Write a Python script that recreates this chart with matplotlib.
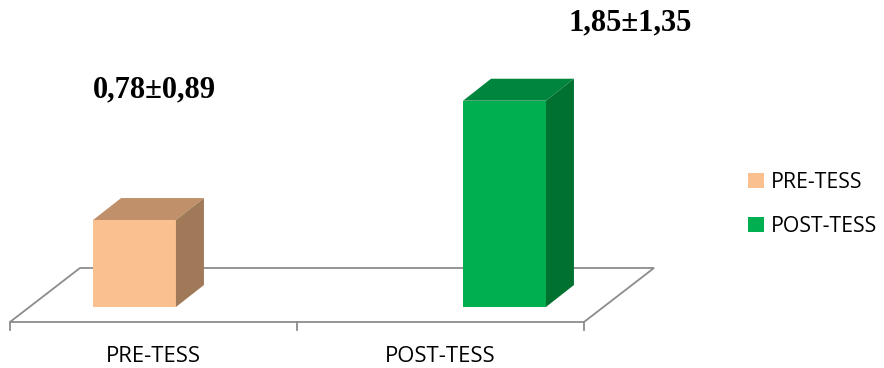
import matplotlib.pyplot as plt
from matplotlib.patches import Polygon, Patch

# =====================================================
# Data
# =====================================================

groups = ["PRE-TESS", "POST-TESS"]
means = [0.78, 1.85]
labels = ["0,78±0,89", "1,85±1,35"]

# front / top / side colours per bar
front_cols = ["#FAC090", "#00B050"]
top_cols = ["#BF906A", "#00853C"]
side_cols = ["#A07A58", "#00712F"]

# =====================================================
# Geometry (bar units: x = category index, y = value)
# =====================================================

bar_w = 0.224
dep_x = 0.0757
dep_y = 0.197

floor_front = (-0.3365, 1.2149, -0.1345)
floor_shift = (0.1892, 0.4843)
tick_x = [-0.3365, 0.4392, 1.2149]
label_x = [0.0514, 0.827]
val_pos = [(0.055, 1.95), (1.339, 2.55)]

fig = plt.figure(figsize=(8.84, 3.68), dpi=100)
ax = fig.add_axes([0, 0, 1, 1])
ax.set_xlim(-0.3635, 2.0257)
ax.set_ylim(-0.547, 2.753)
ax.axis("off")

# floor
x0, x1, yf = floor_front
sx, sy = floor_shift
floor = Polygon([(x0, yf), (x1, yf), (x1 + sx, yf + sy), (x0 + sx, yf + sy)],
                closed=True, facecolor="white", edgecolor="#8C8C8C", lw=1.3, zorder=1)
ax.add_patch(floor)
for tx in tick_x:
    ax.plot([tx, tx], [yf, yf - 0.072], color="#8C8C8C", lw=1.3, zorder=1)

for i, name in enumerate(groups):
    ax.text(label_x[i], -0.448, name, ha="center", va="center",
            fontsize=15.8, family="Open Sans", color="black")

# bars
for i, v in enumerate(means):
    left = i - bar_w / 2
    right = i + bar_w / 2
    front = Polygon([(left, 0), (right, 0), (right, v), (left, v)],
                    closed=True, facecolor=front_cols[i], edgecolor="none", zorder=3)
    top = Polygon([(left, v), (right, v), (right + dep_x, v + dep_y), (left + dep_x, v + dep_y)],
                  closed=True, facecolor=top_cols[i], edgecolor="none", zorder=3)
    side = Polygon([(right, 0), (right + dep_x, dep_y), (right + dep_x, v + dep_y), (right, v)],
                   closed=True, facecolor=side_cols[i], edgecolor="none", zorder=3)
    for p in (front, top, side):
        ax.add_patch(p)

    ax.text(val_pos[i][0], val_pos[i][1], labels[i], ha="center", va="center",
            fontsize=22, fontweight="bold", family="Liberation Serif")

# legend
handles = [Patch(facecolor=c, edgecolor="none") for c in front_cols]
fig.legend(handles, groups, loc="upper left", bbox_to_anchor=(0.825, 0.585),
           frameon=False, handlelength=0.72, handleheight=0.72, handletextpad=0.35,
           labelspacing=1.1, prop={"family": "Open Sans", "size": 15.3})

plt.savefig("out.png", dpi=100)
